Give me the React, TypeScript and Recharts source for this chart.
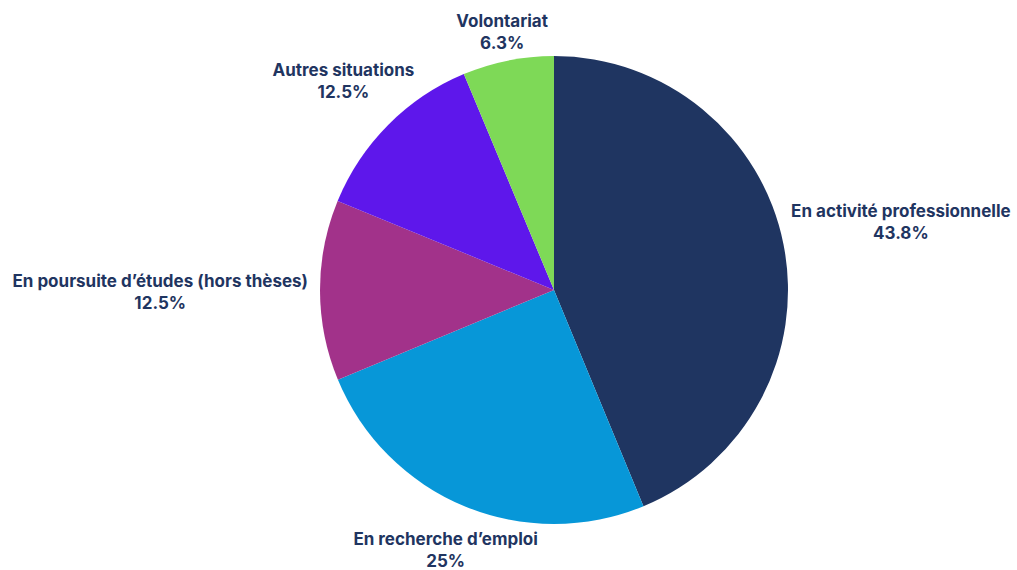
import { PieChart, Pie, Cell } from 'recharts';

const categories = [
    'En activité professionnelle',
    'En recherche d’emploi',
    'En poursuite d’études (hors thèses)',
    'Autres situations',
    'Volontariat',
];
const shares = [43.8, 25, 12.5, 12.5, 6.3];
const colors = ['#1f3561', '#0797d8', '#a2328a', '#5e17eb', '#7ed957'];

const data = categories.map((name, i) => ({ name, value: shares[i] }));

const W = 1017;
const H = 570;
const FONT_SIZE = 17;
const FONT = `700 ${FONT_SIZE}px Inter`;
const TEXT_COLOR = '#1f3561';
const RAD = Math.PI / 180;

let ctx: CanvasRenderingContext2D | null = null;
const measure = (s: string) => {
    if (!ctx) ctx = document.createElement('canvas').getContext('2d');
    if (!ctx) return s.length * 9;
    ctx.font = FONT;
    return ctx.measureText(s).width;
};

const fmt = (v: number) => `${v}%`;

const renderLabel = (props: any) => {
    const { cx, cy, midAngle, outerRadius, name, value } = props;
    const vx = Math.cos(-midAngle * RAD);
    const vy = Math.sin(-midAngle * RAD);
    const w = Math.max(measure(name), measure(fmt(value))) + 6;
    const h = 38;
    // distance from the rim to the label box centre
    const d = 9 + Math.sqrt((w / 2 * vx) ** 2 + (h / 2 * vy) ** 2);
    const x = cx + (outerRadius + d) * vx;
    // keep the two lines inside the chart
    const y = Math.min(cy + (outerRadius + d) * vy, H - 21);
    return (
        <text
            x={x}
            y={y}
            textAnchor="middle"
            fill={TEXT_COLOR}
            style={{ fontFamily: 'Inter', fontWeight: 700, fontSize: FONT_SIZE }}
        >
            <tspan x={x} y={y - 4}>{name}</tspan>
            <tspan x={x} y={y + 18}>{fmt(value)}</tspan>
        </text>
    );
};

export default function App() {
    return (
        <div style={{ position: 'absolute', left: 0, top: 0, width: W, height: H, background: '#fff' }}>
            <PieChart width={W} height={H} margin={{ top: 0, right: 0, bottom: 0, left: 0 }}>
                <Pie
                    data={data}
                    dataKey="value"
                    nameKey="name"
                    cx={554}
                    cy={290}
                    outerRadius={234}
                    startAngle={90}
                    endAngle={-270}
                    stroke="none"
                    label={renderLabel}
                    labelLine={false}
                    isAnimationActive={false}
                >
                    {data.map((entry, index) => (
                        <Cell key={`cell-${index}`} fill={colors[index]} />
                    ))}
                </Pie>
            </PieChart>
        </div>
    );
}
